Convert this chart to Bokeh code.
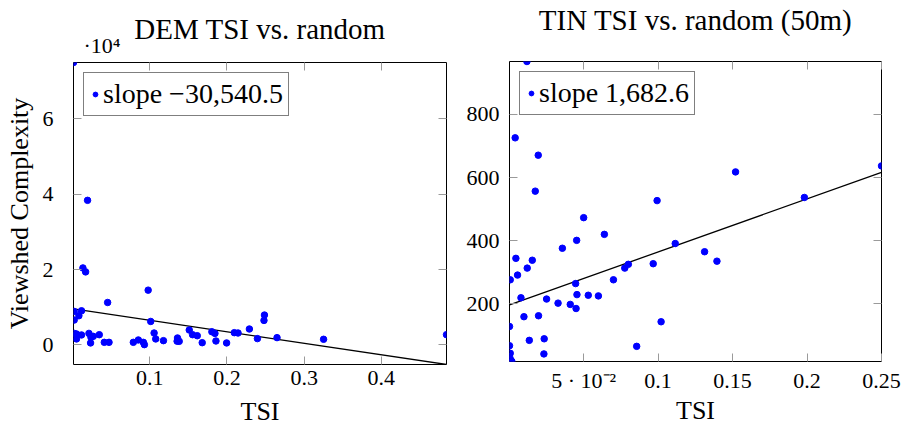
from bokeh.plotting import figure
from bokeh.layouts import row, column
from bokeh.models import Range1d, LinearAxis, FixedTicker, Title
from bokeh.embed import file_html
from bokeh.resources import INLINE

# ---------------- data ----------------
dem_tsi = [0.0013, 0.0195, 0.0135, 0.0170, 0.0980, 0.0455, 0.0022, 0.0117, 0.0083, 0.0022,
           0.1013, 0.2486, 0.2480, 0.0022, 0.0052, 0.0052, 0.0117, 0.0213, 0.0239, 0.0269,
           0.0234, 0.0347, 0.0412, 0.0473, 0.0788, 0.0853, 0.0918, 0.0931, 0.1057, 0.1078,
           0.1178, 0.1360, 0.1355, 0.1382, 0.1512, 0.1555, 0.1616, 0.1680, 0.1805, 0.1845,
           0.1858, 0.1996, 0.2096, 0.2144, 0.2291, 0.2395, 0.2649, 0.3252, 0.4844]
dem_vc = [75000, 38400, 20450, 19400, 14550, 11270, 8890, 9070, 7750, 6610,
          6240, 7940, 6510, 3070, 2910, 1590, 2650, 3070, 2010, 2280,
          530, 2720, 690, 690, 690, 1320, 690, 80, 3170, 1590,
          1140, 1850, 1000, 950, 3970, 2720, 2450, 600, 3500, 3070,
          1050, 530, 3260, 3170, 4230, 1680, 1940, 1500, 2730]

tin_tsi = [0.0119, 0.0040, 0.0195, 0.0175, 0.0993, 0.1520, 0.1982, 0.2500, 0.0500, 0.0639,
           0.0453, 0.0357, 0.1115, 0.1312, 0.1395, 0.0967, 0.0800, 0.0776, 0.0045, 0.0155,
           0.0121, 0.0056, 0.0007, 0.0700, 0.0446, 0.0079, 0.0251, 0.0328, 0.0410, 0.0455,
           0.0531, 0.0599, 0.0449, 0.0099, 0.0197, 0.0002, 0.1020, 0.0135, 0.0235, 0.0002,
           0.0856, 0.0233, 0.0007, 0.0002, 0.0011, 0.0018]
tin_vc = [968, 726, 671, 557, 527, 618, 537, 637, 473, 420,
          401, 376, 391, 365, 335, 327, 325, 313, 344, 338,
          313, 291, 276, 276, 264, 219, 215, 202, 198, 229,
          227, 225, 185, 159, 162, 128, 143, 84, 89, 67,
          65, 41, 43, 32, 22, 17]

dem_slope, dem_intercept = -30540.5, 9600.0
tin_slope, tin_intercept = 1682.6, 196.0

dem_title = "DEM TSI vs. random"
tin_title = "TIN TSI vs. random (50m)"
dem_scale_label = "\u00b710\u2074"
dem_legend = "slope \u221230,540.5"
tin_legend = "slope 1,682.6"

dem_xticks = [0.1, 0.2, 0.3, 0.4]
dem_xtick_labels = ["0.1", "0.2", "0.3", "0.4"]
dem_yticks = [0, 20000, 40000, 60000]
dem_ytick_labels = ["0", "2", "4", "6"]
tin_xticks = [0.05, 0.1, 0.15, 0.2, 0.25]
tin_xtick_labels = ["5 \u00b7 10\u207b\u00b2", "0.1", "0.15", "0.2", "0.25"]
tin_yticks = [200, 400, 600, 800]
tin_ytick_labels = ["200", "400", "600", "800"]

FONT = "Liberation Serif"
BLUE = "#0000ff"
TICK = "#9a9a9a"


def panel(xs, ys, slope, intercept, legend, xt, xtl, yt, ytl, ylabel,
          width, borders, ystandoff, xstandoff, xlabstandoff):
    x0, x1 = min(xs), max(xs)
    lx = [x0, x1]
    ly = [intercept + slope * x for x in lx]
    ymin = min(min(ys), min(ly))
    ymax = max(max(ys), max(ly))
    p = figure(width=width, height=432, output_backend="svg", toolbar_location=None,
               title=None,
               x_range=Range1d(x0, x1), y_range=Range1d(ymin, ymax),
               min_border_left=borders[0], min_border_right=borders[1],
               min_border_top=borders[2], min_border_bottom=borders[3])
    p.line(lx, ly, line_color="black", line_width=1.3)
    p.scatter(xs, ys, size=6.5, color=BLUE, legend_label=legend)

    p.add_layout(LinearAxis(), "above")
    p.add_layout(LinearAxis(), "right")
    xlab = dict(zip(xt, xtl))
    ylab = dict(zip(yt, ytl))
    for ax in p.xaxis:
        ax.ticker = FixedTicker(ticks=xt)
        ax.major_label_overrides = xlab
    for ax in p.yaxis:
        ax.ticker = FixedTicker(ticks=yt)
        ax.major_label_overrides = ylab
    for ax in p.axis:
        ax.major_tick_in = 8
        ax.major_tick_out = 0
        ax.major_tick_line_color = TICK
        ax.major_tick_line_width = 1
        ax.minor_tick_line_color = None
        ax.axis_line_color = None
        ax.major_label_text_font = FONT
        ax.major_label_text_font_size = "22px"
        ax.major_label_text_color = "black"
        ax.axis_label_text_font = FONT
        ax.axis_label_text_font_size = "26px"
        ax.axis_label_text_font_style = "normal"
        ax.axis_label_text_color = "black"
    # mirrored axes: tick marks only
    for ax in (p.above[0], p.right[0]):
        ax.major_label_text_color = None
        ax.major_label_text_font_size = "1px"
        ax.major_label_standoff = 0
    p.below[0].axis_label = "TSI"
    p.below[0].major_label_standoff = xstandoff
    p.below[0].axis_label_standoff = xlabstandoff
    p.left[0].major_label_standoff = ystandoff
    if ylabel:
        p.left[0].axis_label = ylabel
        p.left[0].axis_label_standoff = 6

    p.xgrid.visible = False
    p.ygrid.visible = False
    p.outline_line_color = "black"
    p.outline_line_width = 1
    p.outline_line_alpha = 1

    lg = p.legend[0]
    lg.location = "top_left"
    lg.margin = 10
    lg.padding = 5
    lg.spacing = 0
    lg.glyph_width = 12
    lg.glyph_height = 20
    lg.label_standoff = 2
    lg.label_text_font = FONT
    lg.label_text_font_size = "28px"
    lg.label_text_color = "black"
    lg.border_line_color = "black"
    lg.border_line_width = 1
    lg.background_fill_alpha = 1
    return p


def add_title(p, text, size, align="center", offset=0, standoff=10):
    p.add_layout(Title(text=text, align=align, offset=offset, standoff=standoff,
                       text_font=FONT, text_font_size=size, text_font_style="normal",
                       text_color="black"), "above")


p1 = panel(dem_tsi, dem_vc, dem_slope, dem_intercept, dem_legend,
           dem_xticks, dem_xtick_labels, dem_yticks, dem_ytick_labels,
           "Viewshed Complexity", 460, (73, 14, 62, 68), 20, 6, 9)
add_title(p1, dem_scale_label, "22px", align="left", offset=10, standoff=9)
add_title(p1, dem_title, "29px", standoff=-36)

p2 = panel(tin_tsi, tin_vc, tin_slope, tin_intercept, tin_legend,
           tin_xticks, tin_xtick_labels, tin_yticks, tin_ytick_labels,
           None, 444, (49, 23, 57, 71), 10, 6, 0)
# title of the right panel carried by the mirrored top axis
top = p2.above[0]
top.axis_label = tin_title
top.axis_label_text_font_size = "29px"
top.axis_label_standoff = 26

layout = row(p1, column(p2))
open("out.html", "w").write(file_html(layout, INLINE))
